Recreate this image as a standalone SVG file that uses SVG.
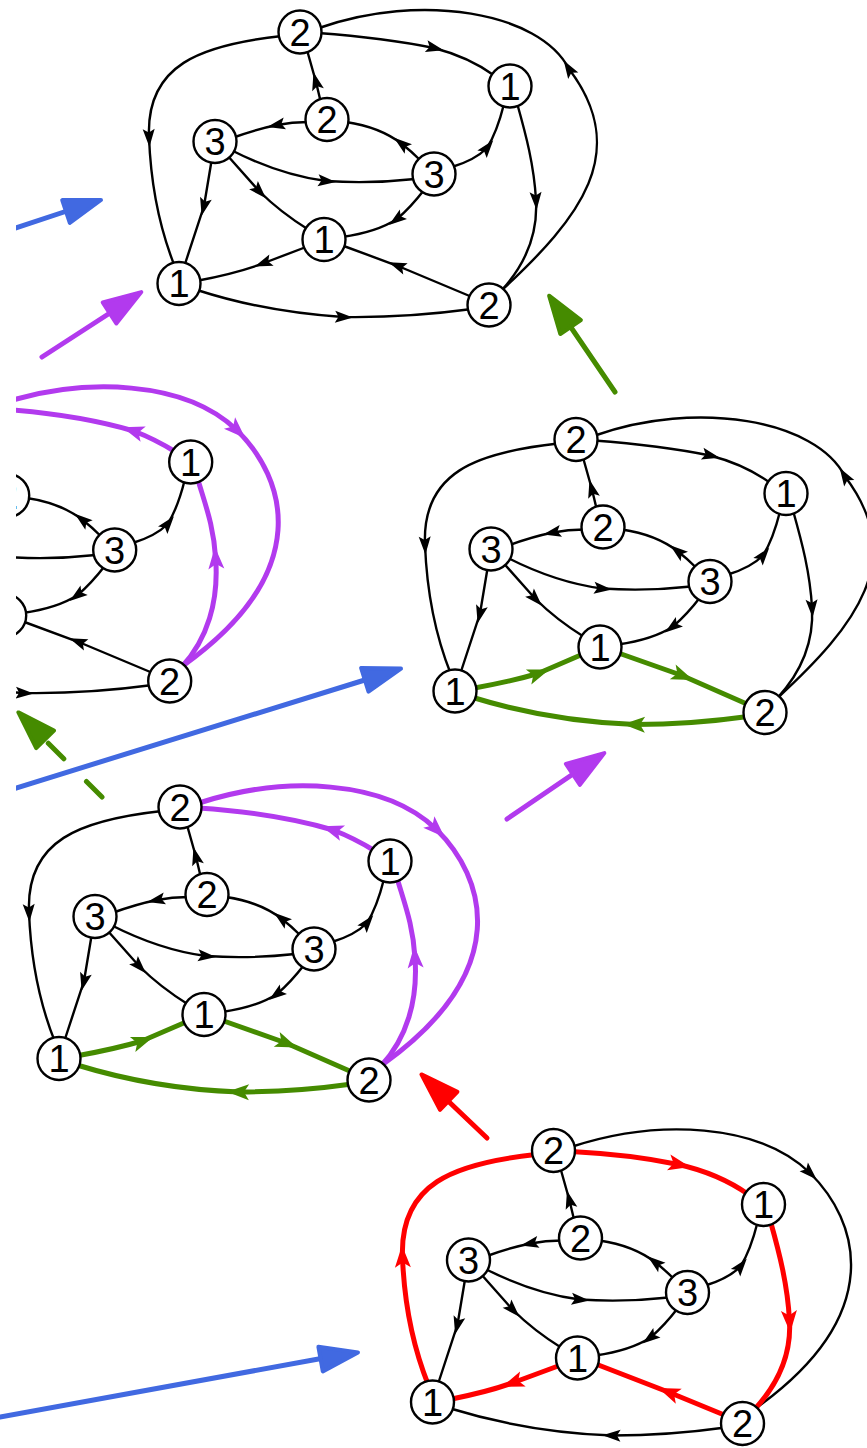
<svg xmlns="http://www.w3.org/2000/svg" xmlns:xlink="http://www.w3.org/1999/xlink" width="867" height="1448" viewBox="0 0 867 1448">
<style>
.e{fill:none;stroke:#000;stroke-width:2.4;marker-mid:url(#ak)}
.g{fill:none;stroke:#458b00;stroke-width:5;marker-mid:url(#ag)}
.p{fill:none;stroke:#b23aee;stroke-width:5;marker-mid:url(#ap)}
.r{fill:none;stroke:#ff0000;stroke-width:5;marker-mid:url(#ar)}
.n circle{fill:#fff;stroke:#000;stroke-width:2.4}
.n text{font-family:"Liberation Sans",Arial,sans-serif;font-size:38px;text-anchor:middle;fill:#000}
.bl{stroke-width:5;stroke-linecap:round;fill:none}
.hd{stroke-width:4;stroke-linejoin:round}
</style>
<defs>
<marker id="ak" markerUnits="userSpaceOnUse" viewBox="-12 -12 24 24" markerWidth="24" markerHeight="24" refX="0" refY="0" orient="auto"><path d="M10,0 L-8,-6 L-4.5,0 L-8,6 Z" fill="#000"/></marker>
<marker id="ag" markerUnits="userSpaceOnUse" viewBox="-14 -14 28 28" markerWidth="28" markerHeight="28" refX="0" refY="0" orient="auto"><path d="M12,0 L-10,-8 L-5,0 L-10,8 Z" fill="#458b00"/></marker>
<marker id="ap" markerUnits="userSpaceOnUse" viewBox="-14 -14 28 28" markerWidth="28" markerHeight="28" refX="0" refY="0" orient="auto"><path d="M12,0 L-10,-8 L-5,0 L-10,8 Z" fill="#b23aee"/></marker>
<marker id="ar" markerUnits="userSpaceOnUse" viewBox="-14 -14 28 28" markerWidth="28" markerHeight="28" refX="0" refY="0" orient="auto"><path d="M12,0 L-10,-8 L-5,0 L-10,8 Z" fill="#ff0000"/></marker>
<clipPath id="clip"><rect x="16" y="0" width="851" height="1448"/></clipPath>
<g id="core" fill="none" stroke="#000" stroke-width="2.4" marker-mid="url(#ak)">
<path d="M321,103 L316,82 L307,50"/>
<path d="M308,122 Q292,122 277,125 Q257,129 232,138"/>
<path d="M420,160 Q411,151 402,144 Q380,127 346,122"/>
<path d="M231,150 Q280,175 326,181 Q370,184 415,179"/>
<path d="M452,167 Q475,160 487,148 Q497,132 504,104"/>
<path d="M212,158 L204,206 L184,267"/>
<path d="M227,155 L259,191 Q280,212 309,230"/>
<path d="M424,190 Q411,207 397,219 Q377,232 342,237"/>
</g>
</defs>
<rect width="867" height="1448" fill="#fff"/>
<g clip-path="url(#clip)">
<g id="graph-A">
<g id="A-connectors">
<use href="#core"/>
<path class="e" d="M282,36 C200,45 146,65 149,137 C151,190 161,232 175,267"/>
<path class="e" d="M318,33 Q385,38 434,48 Q469,57 495,76"/>
<path class="e" d="M502,290 C580,218 632,152 569,69 C540,12 420,-8 319,28"/>
<path class="e" d="M517,103 C526,135 534,165 536,200 C538,235 525,265 501,291"/>
<path class="e" d="M306,247 L264,263 Q238,273 196,281"/>
<path class="e" d="M472,297 L398,266 L341,245"/>
<path class="e" d="M197,290 Q265,312 343,317 Q405,318 472,309"/>
</g>
<g id="A-T2" class="n"><circle cx="300" cy="32" r="21.5"/><text x="300" y="45.5">2</text></g>
<g id="A-R1" class="n"><circle cx="510" cy="86" r="21.5"/><text x="510" y="99.5">1</text></g>
<g id="A-M2" class="n"><circle cx="327" cy="119.5" r="21.5"/><text x="327" y="133">2</text></g>
<g id="A-L3" class="n"><circle cx="215" cy="141.5" r="21.5"/><text x="215" y="155">3</text></g>
<g id="A-R3" class="n"><circle cx="434" cy="174" r="21.5"/><text x="434" y="187.5">3</text></g>
<g id="A-C1" class="n"><circle cx="324" cy="239.5" r="21.5"/><text x="324" y="253">1</text></g>
<g id="A-BL1" class="n"><circle cx="179" cy="283.5" r="21.5"/><text x="179" y="297">1</text></g>
<g id="A-BR2" class="n"><circle cx="489" cy="305" r="21.5"/><text x="489" y="318.5">2</text></g>
</g>
<g id="graph-B" transform="translate(276,407.5)">
<g id="B-connectors">
<use href="#core"/>
<path class="e" d="M282,36 C200,45 146,65 149,137 C151,190 161,232 175,267"/>
<path class="e" d="M318,33 Q385,38 434,48 Q469,57 495,76"/>
<path class="e" d="M502,290 C580,218 632,152 569,69 C540,12 420,-8 319,28"/>
<path class="e" d="M517,103 C526,135 534,165 536,200 C538,235 525,265 501,291"/>
<path class="g" d="M196,281 Q235,274 262,266 L306,247"/>
<path class="g" d="M341,245 L406,268 L472,297"/>
<path class="g" d="M472,309 Q415,317 359,317 Q275,314 197,290"/>
</g>
<g id="B-T2" class="n"><circle cx="300" cy="32" r="21.5"/><text x="300" y="45.5">2</text></g>
<g id="B-R1" class="n"><circle cx="510" cy="86" r="21.5"/><text x="510" y="99.5">1</text></g>
<g id="B-M2" class="n"><circle cx="327" cy="119.5" r="21.5"/><text x="327" y="133">2</text></g>
<g id="B-L3" class="n"><circle cx="215" cy="141.5" r="21.5"/><text x="215" y="155">3</text></g>
<g id="B-R3" class="n"><circle cx="434" cy="174" r="21.5"/><text x="434" y="187.5">3</text></g>
<g id="B-C1" class="n"><circle cx="324" cy="239.5" r="21.5"/><text x="324" y="253">1</text></g>
<g id="B-BL1" class="n"><circle cx="179" cy="283.5" r="21.5"/><text x="179" y="297">1</text></g>
<g id="B-BR2" class="n"><circle cx="489" cy="305" r="21.5"/><text x="489" y="318.5">2</text></g>
</g>
<g id="graph-C" transform="translate(-319.3,376)">
<g id="C-connectors">
<use href="#core"/>
<path class="e" d="M282,36 C200,45 146,65 149,137 C151,190 161,232 175,267"/>
<path class="e" d="M306,247 L264,263 Q238,273 196,281"/>
<path class="e" d="M472,297 L398,266 L341,245"/>
<path class="e" d="M197,290 Q265,312 343,317 Q405,318 472,309"/>
<path class="p" d="M495,76 Q474,63 453,55 Q395,38 318,33"/>
<path class="p" d="M319,28 C405,0 505,5 556,54 C605,102 635,195 502,290"/>
<path class="p" d="M501,291 C527,263 538,225 535,183 C533,150 525,130 517,103"/>
</g>
<g id="C-R1" class="n"><circle cx="510" cy="86" r="21.5"/><text x="510" y="99.5">1</text></g>
<g id="C-M2" class="n"><circle cx="327" cy="119.5" r="21.5"/><text x="327" y="133">2</text></g>
<g id="C-R3" class="n"><circle cx="434" cy="174" r="21.5"/><text x="434" y="187.5">3</text></g>
<g id="C-C1" class="n"><circle cx="324" cy="239.5" r="21.5"/><text x="324" y="253">1</text></g>
<g id="C-BR2" class="n"><circle cx="489" cy="305" r="21.5"/><text x="489" y="318.5">2</text></g>
</g>
<g id="graph-D" transform="translate(-120,775)">
<g id="D-connectors">
<use href="#core"/>
<path class="e" d="M282,36 C200,45 146,65 149,137 C151,190 161,232 175,267"/>
<path class="p" d="M495,76 Q474,63 453,55 Q395,38 318,33"/>
<path class="p" d="M319,28 C405,0 505,5 556,54 C605,102 635,195 502,290"/>
<path class="p" d="M501,291 C527,263 538,225 535,183 C533,150 525,130 517,103"/>
<path class="g" d="M196,281 Q235,274 262,266 L306,247"/>
<path class="g" d="M341,245 L406,268 L472,297"/>
<path class="g" d="M472,309 Q415,317 359,317 Q275,314 197,290"/>
</g>
<g id="D-T2" class="n"><circle cx="300" cy="32" r="21.5"/><text x="300" y="45.5">2</text></g>
<g id="D-R1" class="n"><circle cx="510" cy="86" r="21.5"/><text x="510" y="99.5">1</text></g>
<g id="D-M2" class="n"><circle cx="327" cy="119.5" r="21.5"/><text x="327" y="133">2</text></g>
<g id="D-L3" class="n"><circle cx="215" cy="141.5" r="21.5"/><text x="215" y="155">3</text></g>
<g id="D-R3" class="n"><circle cx="434" cy="174" r="21.5"/><text x="434" y="187.5">3</text></g>
<g id="D-C1" class="n"><circle cx="324" cy="239.5" r="21.5"/><text x="324" y="253">1</text></g>
<g id="D-BL1" class="n"><circle cx="179" cy="283.5" r="21.5"/><text x="179" y="297">1</text></g>
<g id="D-BR2" class="n"><circle cx="489" cy="305" r="21.5"/><text x="489" y="318.5">2</text></g>
</g>
<g id="graph-E" transform="translate(253.5,1118.5)">
<g id="E-connectors">
<use href="#core"/>
<path class="e" d="M319,28 C405,0 505,5 556,54 C605,102 635,195 502,290"/>
<path class="e" d="M472,309 Q415,317 359,317 Q275,314 197,290"/>
<path class="r" d="M175,267 C161,232 151,190 149,139 C146,65 200,45 282,36"/>
<path class="r" d="M318,33 Q377,36 425,46 Q465,55 495,76"/>
<path class="r" d="M517,103 C526,135 534,166 536,202 C538,236 525,265 501,291"/>
<path class="r" d="M306,247 L260,264 Q236,273 196,281"/>
<path class="r" d="M472,297 L416,274 L341,245"/>
</g>
<g id="E-T2" class="n"><circle cx="300" cy="32" r="21.5"/><text x="300" y="45.5">2</text></g>
<g id="E-R1" class="n"><circle cx="510" cy="86" r="21.5"/><text x="510" y="99.5">1</text></g>
<g id="E-M2" class="n"><circle cx="327" cy="119.5" r="21.5"/><text x="327" y="133">2</text></g>
<g id="E-L3" class="n"><circle cx="215" cy="141.5" r="21.5"/><text x="215" y="155">3</text></g>
<g id="E-R3" class="n"><circle cx="434" cy="174" r="21.5"/><text x="434" y="187.5">3</text></g>
<g id="E-C1" class="n"><circle cx="324" cy="239.5" r="21.5"/><text x="324" y="253">1</text></g>
<g id="E-BL1" class="n"><circle cx="179" cy="283.5" r="21.5"/><text x="179" y="297">1</text></g>
<g id="E-BR2" class="n"><circle cx="489" cy="305" r="21.5"/><text x="489" y="318.5">2</text></g>
</g>
<g id="transition-arrows">
<g id="arrow-blue-1"><path class="bl" stroke="#4169e1" d="M16,228 L70,210"/><polygon class="hd" fill="#4169e1" stroke="#4169e1" points="101,200 69.8,222.9 62.2,200.1"/></g>
<g id="arrow-purple-1"><path class="bl" stroke="#b23aee" d="M42,357 L113,311"/><polygon class="hd" fill="#b23aee" stroke="#b23aee" points="141.3,292.1 116.3,323.4 102.7,302.4"/></g>
<g id="arrow-green-1"><path class="bl" stroke="#458b00" d="M615,392 L568,323"/><polygon class="hd" fill="#458b00" stroke="#458b00" points="549.1,295.7 580.9,320 560.3,334"/></g>
<g id="arrow-blue-2"><path class="bl" stroke="#4169e1" d="M0,793 L368,679"/><polygon class="hd" fill="#4169e1" stroke="#4169e1" points="401,668.6 368.5,691.7 361.1,667.9"/></g>
<g id="arrow-green-dashed"><path class="bl" stroke="#458b00" stroke-dasharray="22 32" d="M102,797 L45,740"/><polygon class="hd" fill="#458b00" stroke="#458b00" points="18.4,712.4 54,730.6 36.2,748.2"/></g>
<g id="arrow-purple-2"><path class="bl" stroke="#b23aee" d="M507,819 L576,772"/><polygon class="hd" fill="#b23aee" stroke="#b23aee" points="604.3,753.1 579.9,784.8 565.9,764"/></g>
<g id="arrow-red"><path class="bl" stroke="#ff0000" d="M487,1138 L446,1099"/><polygon class="hd" fill="#ff0000" stroke="#ff0000" points="421.4,1074.4 457.4,1091.9 440,1109.9"/></g>
</g>
</g>
<g id="arrow-blue-3"><path class="bl" stroke="#4169e1" d="M0,1417 L324,1358"/><polygon class="hd" fill="#4169e1" stroke="#4169e1" points="358,1352.4 322.8,1371.4 318.4,1346.8"/></g>
</svg>
